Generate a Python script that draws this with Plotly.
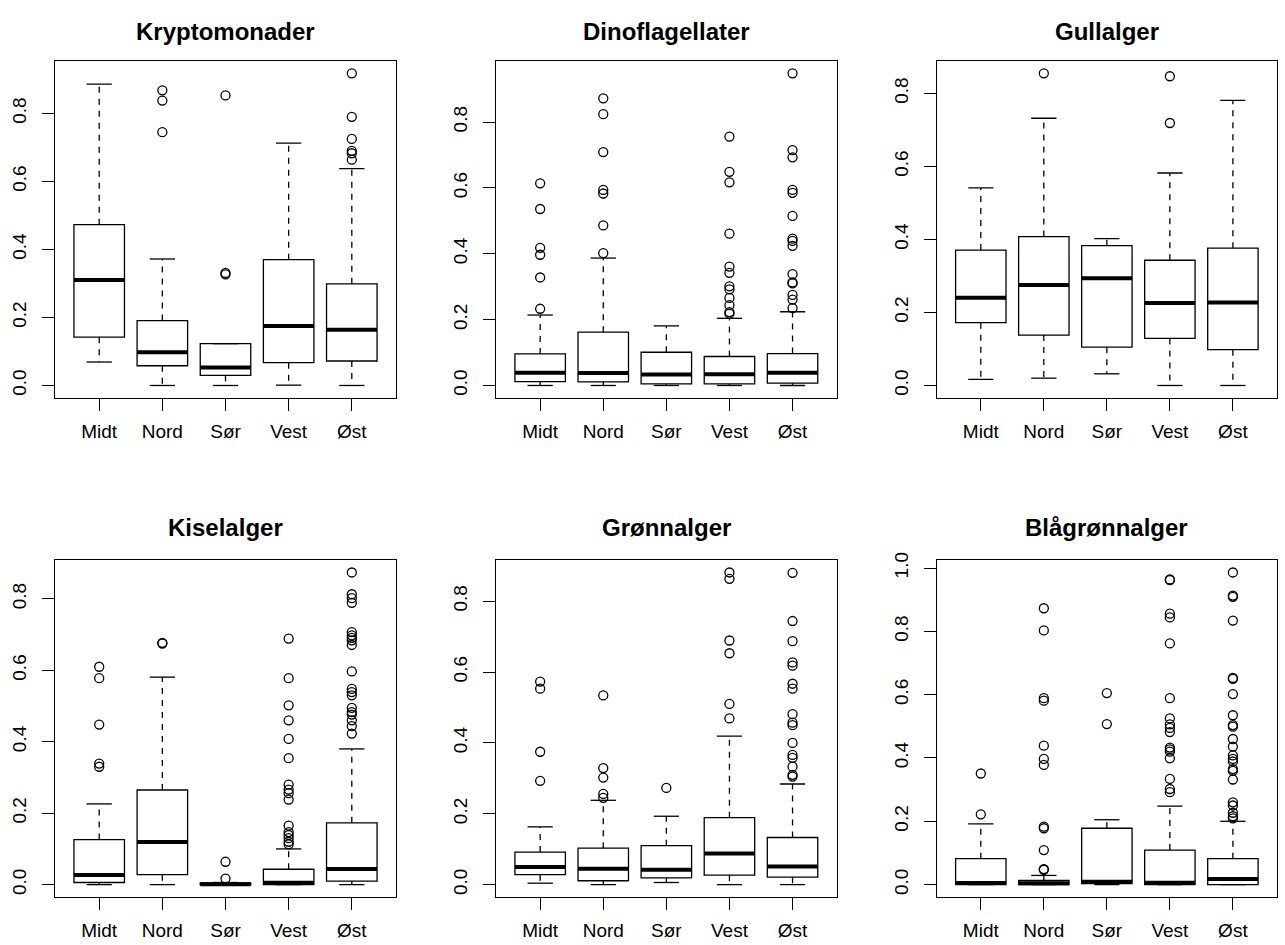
import plotly.graph_objects as go

regions = ["Midt", "Nord", "Sør", "Vest", "Øst"]
titles = ["Kryptomonader", "Dinoflagellater", "Gullalger",
          "Kiselalger", "Grønnalger", "Blågrønnalger"]

# Kryptomonader
kry_low = [0.069, 0.0, 0.0, 0.001, 0.0]
kry_q1 = [0.142, 0.058, 0.030, 0.067, 0.072]
kry_med = [0.310, 0.098, 0.053, 0.175, 0.164]
kry_q3 = [0.473, 0.191, 0.123, 0.370, 0.299]
kry_high = [0.886, 0.372, 0.123, 0.713, 0.638]
kry_out = [[], [0.868, 0.838, 0.745], [0.853, 0.331, 0.327], [],
           [0.918, 0.790, 0.725, 0.690, 0.683, 0.664]]

# Dinoflagellater
din_low = [0.0, 0.0, 0.0, 0.0, 0.0]
din_q1 = [0.012, 0.011, 0.005, 0.005, 0.007]
din_med = [0.039, 0.038, 0.033, 0.034, 0.039]
din_q3 = [0.096, 0.162, 0.101, 0.088, 0.097]
din_high = [0.214, 0.387, 0.181, 0.204, 0.224]
din_out = [[0.614, 0.536, 0.418, 0.397, 0.328, 0.233],
           [0.872, 0.824, 0.709, 0.594, 0.583, 0.486, 0.402],
           [],
           [0.756, 0.649, 0.617, 0.461, 0.361, 0.342, 0.301, 0.292, 0.266,
            0.244, 0.223, 0.218],
           [0.948, 0.715, 0.693, 0.594, 0.585, 0.515, 0.446, 0.439, 0.424,
            0.338, 0.313, 0.310, 0.275, 0.261, 0.235]]

# Gullalger
gul_low = [0.017, 0.020, 0.032, 0.0, 0.0]
gul_q1 = [0.172, 0.138, 0.105, 0.129, 0.098]
gul_med = [0.240, 0.275, 0.294, 0.226, 0.227]
gul_q3 = [0.371, 0.408, 0.383, 0.343, 0.376]
gul_high = [0.541, 0.732, 0.402, 0.582, 0.781]
gul_out = [[], [0.855], [], [0.847, 0.719], []]

# Kiselalger
kis_low = [0.0, 0.0, 0.0, 0.0, 0.0]
kis_q1 = [0.006, 0.028, 0.0, 0.0, 0.010]
kis_med = [0.027, 0.119, 0.001, 0.005, 0.044]
kis_q3 = [0.126, 0.265, 0.005, 0.043, 0.173]
kis_high = [0.226, 0.581, 0.006, 0.100, 0.380]
kis_out = [[0.610, 0.578, 0.448, 0.339, 0.330],
           [0.677, 0.675],
           [0.064, 0.017],
           [0.689, 0.578, 0.502, 0.460, 0.408, 0.354, 0.280, 0.266, 0.256,
            0.238, 0.165, 0.147, 0.139, 0.130, 0.120, 0.113],
           [0.874, 0.813, 0.802, 0.789, 0.707, 0.698, 0.691, 0.684, 0.671,
            0.597, 0.548, 0.539, 0.530, 0.495, 0.483, 0.476, 0.460, 0.444,
            0.423]]

# Grønnalger
gro_low = [0.004, 0.0, 0.006, 0.0, 0.0]
gro_q1 = [0.028, 0.011, 0.019, 0.027, 0.021]
gro_med = [0.050, 0.045, 0.042, 0.088, 0.051]
gro_q3 = [0.092, 0.103, 0.110, 0.189, 0.133]
gro_high = [0.163, 0.238, 0.193, 0.419, 0.284]
gro_out = [[0.573, 0.553, 0.375, 0.293],
           [0.534, 0.329, 0.302, 0.256, 0.245],
           [0.273],
           [0.881, 0.863, 0.689, 0.653, 0.510, 0.469],
           [0.880, 0.744, 0.687, 0.627, 0.618, 0.567, 0.553, 0.481, 0.457,
            0.450, 0.400, 0.366, 0.358, 0.333, 0.310, 0.305]]

# Blågrønnalger
bla_low = [0.0, 0.0, 0.0, 0.0, 0.0]
bla_q1 = [0.0, 0.0, 0.003, 0.0, 0.0]
bla_med = [0.005, 0.004, 0.009, 0.006, 0.018]
bla_q3 = [0.082, 0.013, 0.178, 0.109, 0.082]
bla_high = [0.192, 0.029, 0.205, 0.248, 0.200]
bla_out = [[0.351, 0.222],
           [0.873, 0.803, 0.589, 0.581, 0.439, 0.397, 0.378, 0.183, 0.178,
            0.109, 0.049, 0.047],
           [0.605, 0.507],
           [0.964, 0.962, 0.856, 0.844, 0.762, 0.589, 0.525, 0.506, 0.495,
            0.482, 0.433, 0.427, 0.420, 0.399, 0.334, 0.302, 0.292],
           [0.986, 0.913, 0.909, 0.834, 0.653, 0.650, 0.602, 0.535, 0.504,
            0.499, 0.460, 0.436, 0.408, 0.397, 0.389, 0.365, 0.359, 0.332,
            0.260, 0.250, 0.227, 0.216, 0.209]]

panels = [
    (kry_low, kry_q1, kry_med, kry_q3, kry_high, kry_out),
    (din_low, din_q1, din_med, din_q3, din_high, din_out),
    (gul_low, gul_q1, gul_med, gul_q3, gul_high, gul_out),
    (kis_low, kis_q1, kis_med, kis_q3, kis_high, kis_out),
    (gro_low, gro_q1, gro_med, gro_q3, gro_high, gro_out),
    (bla_low, bla_q1, bla_med, bla_q3, bla_high, bla_out),
]

W, H = 1285, 945
col_px = [(55.0, 396.0), (496.0, 836.7), (936.7, 1277.0)]
row_px = [(53.3, 393.3), (556.7, 896.7)]
title_px = [24, 524]

BOXW = 0.8
CAPW = 0.4
FONT = "Liberation Sans, Arial, Helvetica, sans-serif"

fig = go.Figure()
layout = dict(width=W, height=H, margin=dict(l=0, r=0, t=0, b=0),
              paper_bgcolor="white", plot_bgcolor="white",
              showlegend=False, annotations=[])

pos = [1, 2, 3, 4, 5]
for k, (low, q1, med, q3, high, outs) in enumerate(panels):
    r, c = divmod(k, 3)
    n = k + 1
    xa = "x" if n == 1 else f"x{n}"
    ya = "y" if n == 1 else f"y{n}"
    x0, x1 = col_px[c]
    y0, y1 = row_px[r]

    # boxes
    fig.add_trace(go.Box(
        x=pos, q1=q1, median=med, q3=q3, lowerfence=q1, upperfence=q3,
        width=BOXW, whiskerwidth=0, boxpoints=False,
        fillcolor="white", line=dict(color="black", width=1.3),
        hoverinfo="skip", xaxis=xa, yaxis=ya))

    # whiskers (dashed)
    wx, wy = [], []
    for i, p in enumerate(pos):
        wx += [p, p, None, p, p, None]
        wy += [q3[i], high[i], None, q1[i], low[i], None]
    fig.add_trace(go.Scatter(x=wx, y=wy, mode="lines",
                             line=dict(color="black", width=1.3, dash="6px,6px"),
                             hoverinfo="skip", xaxis=xa, yaxis=ya))
    # staples
    sx, sy = [], []
    for i, p in enumerate(pos):
        sx += [p - CAPW / 2, p + CAPW / 2, None, p - CAPW / 2, p + CAPW / 2, None]
        sy += [high[i], high[i], None, low[i], low[i], None]
    fig.add_trace(go.Scatter(x=sx, y=sy, mode="lines",
                             line=dict(color="black", width=1.3),
                             hoverinfo="skip", xaxis=xa, yaxis=ya))
    # thick medians
    mx, my = [], []
    for i, p in enumerate(pos):
        mx += [p - BOXW / 2, p + BOXW / 2, None]
        my += [med[i], med[i], None]
    fig.add_trace(go.Scatter(x=mx, y=my, mode="lines",
                             line=dict(color="black", width=4),
                             hoverinfo="skip", xaxis=xa, yaxis=ya))
    # outliers
    ox, oy = [], []
    for i, p in enumerate(pos):
        ox += [p] * len(outs[i])
        oy += outs[i]
    fig.add_trace(go.Scatter(x=ox, y=oy, mode="markers",
                             marker=dict(symbol="circle-open", size=9,
                                         color="black", line=dict(width=1.3)),
                             hoverinfo="skip", xaxis=xa, yaxis=ya))

    allv = low + high + [v for o in outs for v in o]
    lo, hi = min(allv), max(allv)
    pad = 0.04 * (hi - lo)

    key_x = "xaxis" if n == 1 else f"xaxis{n}"
    key_y = "yaxis" if n == 1 else f"yaxis{n}"
    layout[key_x] = dict(
        domain=[x0 / W, x1 / W], anchor=ya, range=[0.3, 5.7],
        tickmode="array", tickvals=pos, ticktext=regions,
        ticks="outside", ticklen=12, tickwidth=1.3, tickcolor="black",
        ticklabelstandoff=4,
        showline=True, linecolor="black", linewidth=1.3, mirror=True,
        showgrid=False, zeroline=False,
        tickfont=dict(family=FONT, size=19, color="black"))
    layout[key_y] = dict(
        domain=[1 - y1 / H, 1 - y0 / H], anchor=xa,
        range=[lo - pad, hi + pad], dtick=0.2, tick0=0, tickformat=".1f",
        tickangle=-90,
        ticks="outside", ticklen=12, tickwidth=1.3, tickcolor="black",
        ticklabelstandoff=8,
        showline=True, linecolor="black", linewidth=1.3, mirror=True,
        showgrid=False, zeroline=False,
        tickfont=dict(family=FONT, size=19, color="black"))
    layout["annotations"].append(dict(
        text=f"<b>{titles[k]}</b>", xref="paper", yref="paper",
        x=(x0 + x1) / 2 / W, y=1 - title_px[r] / H,
        xanchor="center", yanchor="middle", showarrow=False,
        font=dict(family=FONT, size=24, color="black")))

fig.update_layout(**layout)
fig.write_html("out.html")
